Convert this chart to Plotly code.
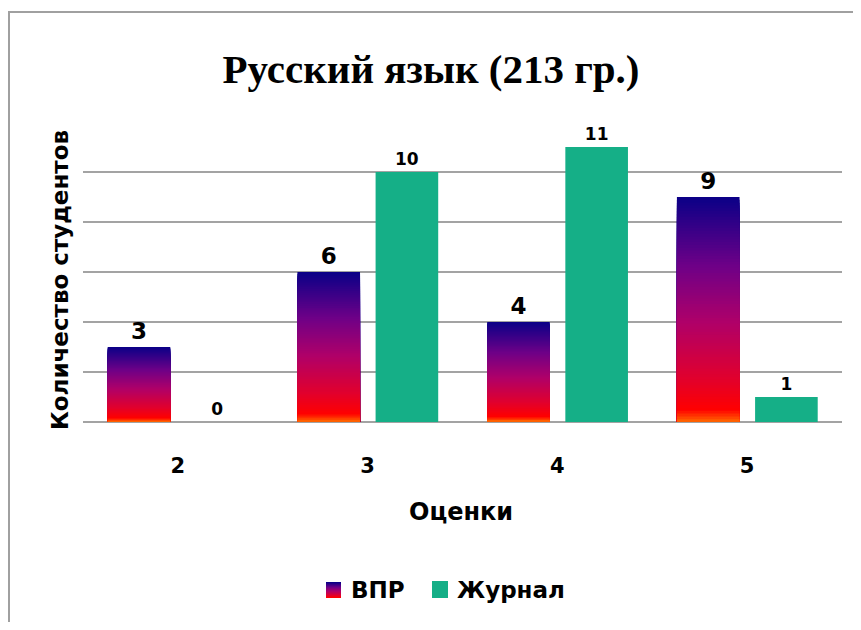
import plotly.graph_objects as go

# data
grades = ["2", "3", "4", "5"]
vpr = [3, 6, 4, 9]
journal = [0, 10, 11, 1]

# the page body adds an 8px margin, so the figure is drawn 8px in from the corner
OFF = 8
W, H = 861 - 2 * OFF, 630 - 2 * OFF
# plot area in page pixels: x 83..842, y 122..422
L, T = 83 - OFF, 122 - OFF
PW, PH = 759, 300
R, B = W - L - PW, H - T - PH


def px_x(x):
    return (x - OFF - L) / PW


def px_y(y):
    return (T + PH - (y - OFF)) / PH


# bottom (0) -> top (1) gradient used for the ВПР bars
STOPS = [
    (0.00, (255, 120, 0)),
    (0.06, (255, 0, 0)),
    (0.20, (225, 0, 45)),
    (0.45, (175, 0, 105)),
    (0.70, (110, 0, 135)),
    (1.00, (12, 0, 135)),
]


def grad(f):
    for (f0, c0), (f1, c1) in zip(STOPS, STOPS[1:]):
        if f <= f1:
            t = (f - f0) / (f1 - f0)
            r, g, b = (round(a + (b_ - a) * t) for a, b_ in zip(c0, c1))
            return f"rgb({r},{g},{b})"
    return "rgb(%d,%d,%d)" % STOPS[-1][1]


TEAL = "#15AF87"
FONT = "DejaVu Sans"
GRID = "#A3A3A3"
BAR_W = 0.33
VPR_OFF, JUR_OFF = -0.37, 0.042

fig = go.Figure()

# the gradient is faked with overlapping bars, tallest (darkest) first
n = 80
for k in range(n):
    f = 1 - k / n
    fig.add_trace(go.Bar(
        x=grades, y=[v * f for v in vpr], width=BAR_W, offset=VPR_OFF,
        marker=dict(color=grad(f), line=dict(width=0)),
        showlegend=False, hoverinfo="skip",
    ))

fig.add_trace(go.Bar(
    x=grades, y=vpr, name="ВПР", text=vpr, textposition="outside",
    width=BAR_W, offset=VPR_OFF,
    textfont=dict(family=FONT, size=23, color="black", weight="bold"),
    marker=dict(color="rgba(0,0,0,0)", line=dict(width=0)),
    showlegend=False, cliponaxis=False,
))
fig.add_trace(go.Bar(
    x=grades, y=journal, name="Журнал", text=journal, textposition="outside",
    width=BAR_W, offset=JUR_OFF,
    textfont=dict(family=FONT, size=17, color="black", weight="bold"),
    marker=dict(color=TEAL, line=dict(width=0)),
    showlegend=False, cliponaxis=False,
))

# custom legend with a gradient swatch
shapes = []
steps = 16
x0, x1, ytop, ybot = px_x(326), px_x(341), px_y(582), px_y(598)
for i in range(steps):
    f = 1 - i / steps
    shapes.append(dict(
        type="rect", xref="paper", yref="paper", x0=x0, x1=x1,
        y0=ybot + (ytop - ybot) * (1 - (i + 1) / steps),
        y1=ybot + (ytop - ybot) * (1 - i / steps),
        fillcolor=grad(f), line=dict(width=0),
    ))
shapes.append(dict(
    type="rect", xref="paper", yref="paper", x0=px_x(432), x1=px_x(448),
    y0=px_y(598), y1=px_y(581), fillcolor=TEAL, line=dict(width=0),
))
# chart area border
shapes.append(dict(
    type="rect", xref="paper", yref="paper", x0=px_x(9), x1=px_x(900),
    y0=px_y(700), y1=px_y(12), line=dict(color="#A0A0A0", width=2),
    layer="below",
))


def bold(size):
    return dict(family=FONT, size=size, color="black", weight="bold")


annotations = [
    dict(text="ВПР", x=px_x(349), y=px_y(590), xref="paper", yref="paper",
         xanchor="left", yanchor="middle", showarrow=False, font=bold(23)),
    dict(text="Журнал", x=px_x(455), y=px_y(590), xref="paper", yref="paper",
         xanchor="left", yanchor="middle", showarrow=False, font=bold(23)),
    dict(text="Оценки", x=px_x(461), y=px_y(512), xref="paper", yref="paper",
         xanchor="center", yanchor="middle", showarrow=False, font=bold(24)),
    dict(text="Количество студентов", x=px_x(60), y=px_y(280), xref="paper",
         yref="paper", xanchor="center", yanchor="middle", textangle=-90,
         showarrow=False, font=bold(23)),
]

fig.update_layout(
    width=W, height=H,
    margin=dict(l=L, r=R, t=T, b=B),
    paper_bgcolor="white", plot_bgcolor="white",
    barmode="overlay",
    title=dict(
        text="Русский язык (213 гр.)", x=(431 - OFF) / W, xref="container",
        xanchor="center", y=1 - (69 - OFF) / H, yanchor="middle",
        font=dict(family="Liberation Serif", size=41, color="black", weight="bold"),
    ),
    shapes=shapes, annotations=annotations,
)
fig.update_xaxes(
    showgrid=False, showline=False, ticks="", ticklabelstandoff=29,
    tickfont=bold(21),
)
fig.update_yaxes(
    range=[0, 12], dtick=2, showticklabels=False, showgrid=True,
    gridcolor=GRID, gridwidth=1.8, zeroline=True, zerolinecolor=GRID,
    zerolinewidth=1.8, ticks="",
)

fig.write_html("out.html")
